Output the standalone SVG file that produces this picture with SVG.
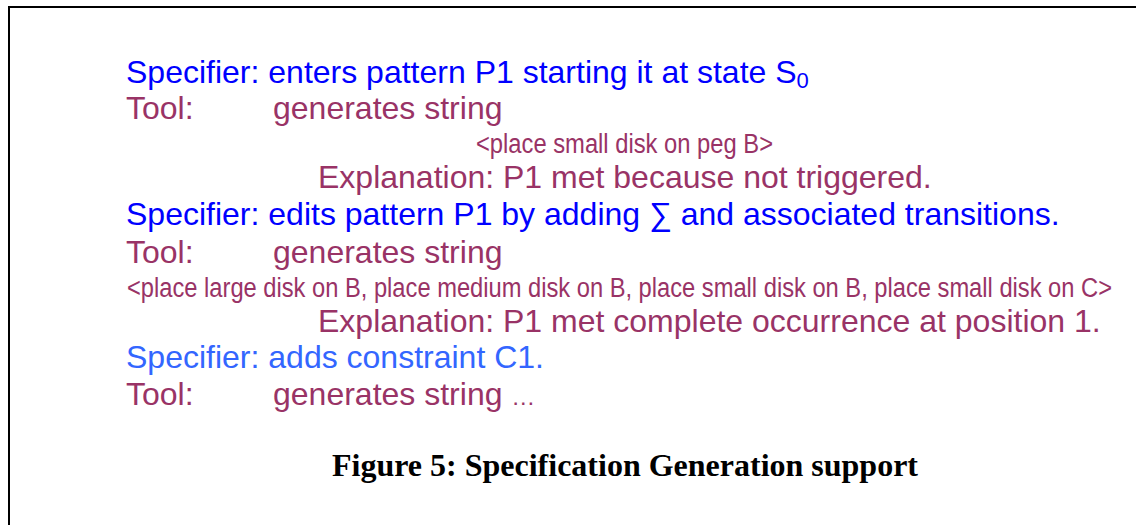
<svg xmlns="http://www.w3.org/2000/svg" width="1136" height="525" viewBox="0 0 1136 525">
<style>
.t{font-family:"Liberation Sans",Arial,sans-serif;font-size:32px}
.b{fill:#0000FF}
.lb{fill:#3366FF}
.m{fill:#993366}
.s{font-family:"Liberation Sans",Arial,sans-serif;font-size:27px;fill:#993366}
.cap{font-family:"Liberation Serif","Times New Roman",serif;font-size:32px;font-weight:bold;fill:#000}
</style>
<rect width="1136" height="525" fill="#fff"/>
<path d="M9,525 V7 H1136" fill="none" stroke="#000" stroke-width="2"/>
<g id="line1"><text class="t b" x="126" y="83">Specifier: enters pattern P1 starting it at state S<tspan font-size="22" dy="5">0</tspan></text></g>
<g id="line2"><text class="t m" x="126" y="119">Tool:</text><text class="t m" x="273" y="119">generates string</text></g>
<g id="line3"><text class="s" x="476" y="153" textLength="297" lengthAdjust="spacingAndGlyphs">&lt;place small disk on peg B&gt;</text></g>
<g id="line4"><text class="t m" x="318" y="188">Explanation: P1 met because not triggered.</text></g>
<g id="line5"><text class="t b" x="126" y="225">Specifier: edits pattern P1 by adding ∑ and associated transitions.</text></g>
<g id="line6"><text class="t m" x="126" y="263">Tool:</text><text class="t m" x="273" y="263">generates string</text></g>
<g id="line7"><text class="s" x="127" y="297" textLength="985" lengthAdjust="spacingAndGlyphs">&lt;place large disk on B, place medium disk on B, place small disk on B, place small disk on C&gt;</text></g>
<g id="line8"><text class="t m" x="318" y="332">Explanation: P1 met complete occurrence at position 1.</text></g>
<g id="line9"><text class="t lb" x="126" y="368">Specifier: adds constraint C1.</text></g>
<g id="line10"><text class="t m" x="126" y="405">Tool:</text><text class="t m" x="273" y="405">generates string <tspan font-size="24">…</tspan></text></g>
<g id="caption"><text class="cap" x="625" y="476" text-anchor="middle">Figure 5: Specification Generation support</text></g>
</svg>
